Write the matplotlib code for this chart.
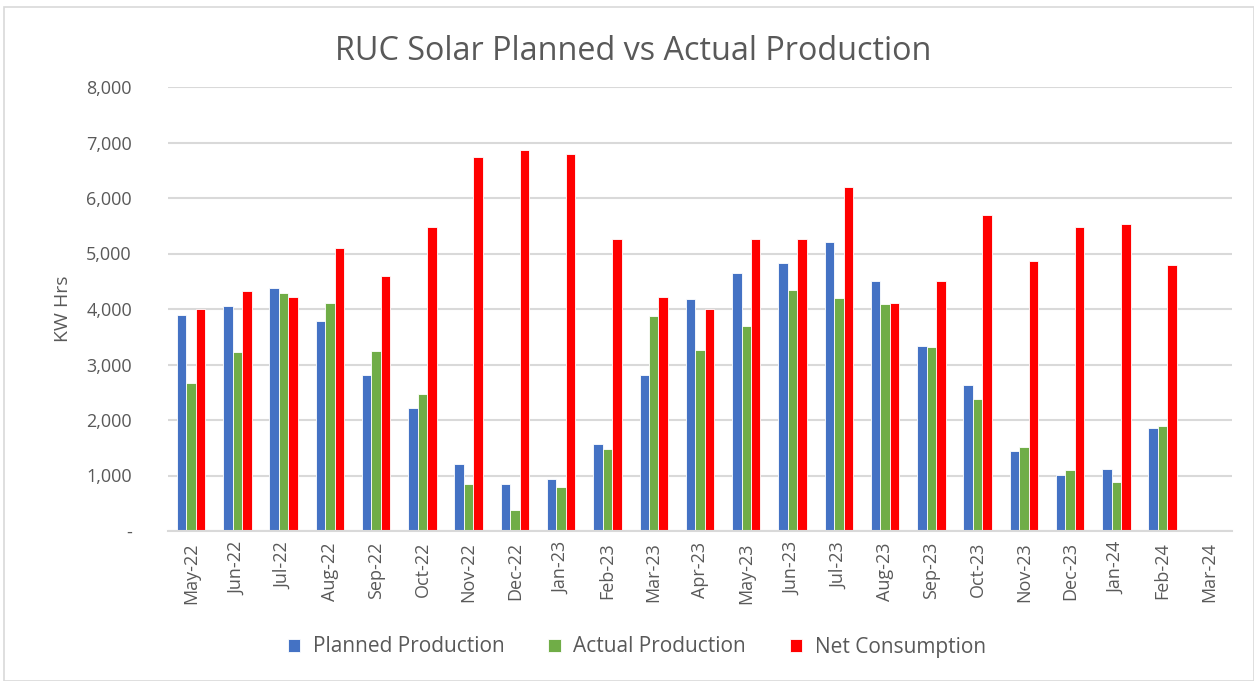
import numpy as np
import matplotlib.pyplot as plt
from matplotlib.patches import Rectangle
from matplotlib.ticker import FuncFormatter

plt.rcParams['font.family'] = ['Open Sans', 'DejaVu Sans']

# Data
months = ['May-22', 'Jun-22', 'Jul-22', 'Aug-22', 'Sep-22', 'Oct-22', 'Nov-22',
          'Dec-22', 'Jan-23', 'Feb-23', 'Mar-23', 'Apr-23', 'May-23', 'Jun-23',
          'Jul-23', 'Aug-23', 'Sep-23', 'Oct-23', 'Nov-23', 'Dec-23', 'Jan-24',
          'Feb-24', 'Mar-24']
planned = [3900, 4060, 4385, 3785, 2810, 2210, 1215, 840, 940, 1560, 2810, 4175,
           4645, 4825, 5215, 4500, 3340, 2625, 1445, 1005, 1125, 1860, np.nan]
actual = [2670, 3225, 4295, 4110, 3250, 2465, 840, 380, 795, 1470, 3875, 3270,
          3690, 4335, 4200, 4085, 3320, 2370, 1515, 1100, 890, 1885, np.nan]
net = [4000, 4320, 4225, 5095, 4590, 5475, 6745, 6865, 6790, 5260, 4225, 4000,
       5260, 5260, 6190, 4100, 4500, 5700, 4865, 5470, 5540, 4800, np.nan]

blue = '#4472c4'
green = '#70ad47'
red = '#ff0000'
gray = '#595959'

fig = plt.figure(figsize=(12.54, 6.81), dpi=100)
ax = fig.add_axes([168 / 1254, 1 - 531 / 681, 1064 / 1254, 444 / 681])

x = np.arange(len(months))
w = 0.205
ax.bar(x - w, planned, w, color=blue, edgecolor='white', linewidth=0.6, label='Planned Production')
ax.bar(x, actual, w, color=green, edgecolor='white', linewidth=0.6, label='Actual Production')
ax.bar(x + w, net, w, color=red, edgecolor='white', linewidth=0.6, label='Net Consumption')

ax.set_xlim(-0.5, len(months) - 0.5)
ax.set_ylim(0, 8000)
ax.set_yticks(np.arange(0, 8001, 1000))
ax.yaxis.set_major_formatter(FuncFormatter(lambda v, p: '-' if v == 0 else f'{int(v):,}'))
ax.set_xticks(x)
ax.set_xticklabels(months, rotation=90)
ax.tick_params(axis='both', length=0, colors=gray, labelsize=13)
ax.tick_params(axis='y', pad=26)
ax.tick_params(axis='x', pad=8)
ax.grid(axis='y', color='#d9d9d9', linewidth=1.5)
ax.set_axisbelow(True)
for s in ['top', 'right', 'left']:
    ax.spines[s].set_visible(False)
ax.spines['bottom'].set_color('#d9d9d9')
ax.spines['bottom'].set_linewidth(1.5)

ax.set_ylabel('KW Hrs', color=gray, fontsize=14, labelpad=10)
fig.text(0.505, 1 - 52 / 681, 'RUC Solar Planned vs Actual Production', ha='center', va='center',
         fontsize=23.3, color=gray)

fig.legend(loc='center', bbox_to_anchor=(0.508, 1 - 647 / 681), ncol=3, frameon=False,
           fontsize=15, handlelength=0.6, handleheight=0.6, columnspacing=2.1,
           handletextpad=0.6, labelcolor=gray)

fig.patches.append(Rectangle((4 / 1254, 0), 1250 / 1254, 1 - 7 / 681, transform=fig.transFigure,
                             fill=False, edgecolor='#d9d9d9', linewidth=1.2))

fig.savefig('out.png', dpi=100)
